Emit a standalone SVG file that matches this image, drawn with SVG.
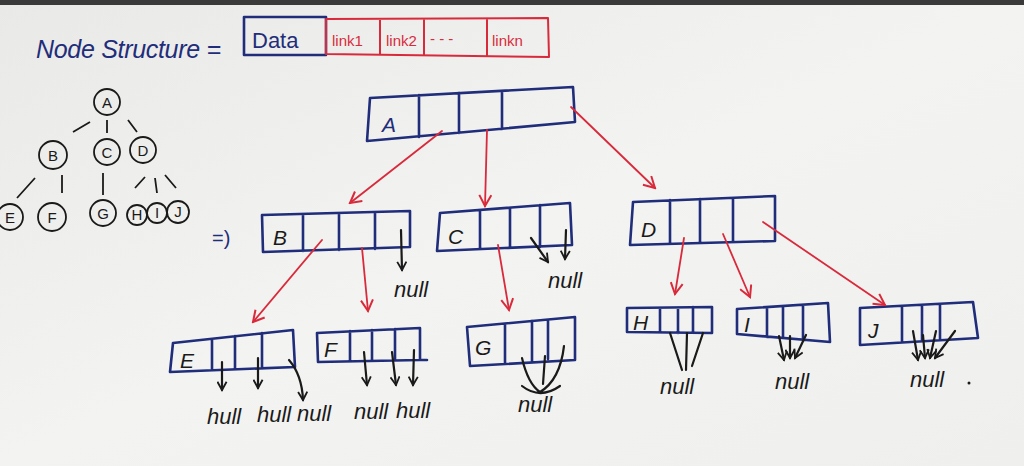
<svg xmlns="http://www.w3.org/2000/svg" width="1024" height="466" viewBox="0 0 1024 466">
<style>
.bx{fill:none;stroke:#1f2d7a;stroke-width:2.6;stroke-linejoin:round;stroke-linecap:round}
.rb{fill:none;stroke:#d92a3c;stroke-width:2;stroke-linejoin:round}
.red{fill:none;stroke:#d92a3c;stroke-width:1.8;stroke-linecap:round}
.blk{fill:none;stroke:#1a1a1a;stroke-width:2.2;stroke-linecap:round;stroke-linejoin:round}
.tc{fill:none;stroke:#1a1a1a;stroke-width:1.8}
.t{font-family:"Liberation Sans",Arial,sans-serif;fill:#1a1a1a}
.lbl{font-size:21px;font-style:italic}
.nul{font-size:22px;font-style:italic}
.tl{font-size:15px;text-anchor:middle}
</style>
<defs>
<linearGradient id="bg" x1="0" y1="0" x2="1" y2="1">
<stop offset="0" stop-color="#e9e9e7"/><stop offset="0.5" stop-color="#f3f3f1"/><stop offset="1" stop-color="#efefed"/>
</linearGradient>
<marker id="ar" viewBox="0 0 14 14" refX="12" refY="7" markerWidth="14" markerHeight="14" markerUnits="userSpaceOnUse" orient="auto"><path d="M1,1 L12,7 L1,13" fill="none" stroke="#d92a3c" stroke-width="2"/></marker>
<marker id="ab" viewBox="0 0 12 12" refX="10" refY="6" markerWidth="11" markerHeight="11" markerUnits="userSpaceOnUse" orient="auto"><path d="M1,1 L10,6 L1,11" fill="none" stroke="#1a1a1a" stroke-width="2"/></marker>
</defs>
<rect width="1024" height="466" fill="url(#bg)"/>
<rect width="1024" height="5" fill="#3a3a3a"/>

<g id="legend">
<text class="t" x="36" y="58" font-size="25" font-style="italic" fill="#1f2d7a" style="fill:#1f2d7a" textLength="185">Node Structure =</text>
<rect x="244" y="17" width="82" height="38" class="bx"/>
<text class="t" x="252" y="48" font-size="22" style="fill:#1f2d7a">Data</text>
<path d="M326,19 L548,18 L549,57 L326,54 Z M380,19 L380,55 M424,19 L424,55 M487,18 L487,56" class="rb"/>
<text class="t" x="332" y="46" font-size="15" style="fill:#d92a3c">link1</text>
<text class="t" x="386" y="46" font-size="15" style="fill:#d92a3c">link2</text>
<text class="t" x="430" y="44" font-size="15" style="fill:#d92a3c">- - -</text>
<text class="t" x="492" y="46" font-size="15" style="fill:#d92a3c">linkn</text>
</g>

<g id="tree">
<circle cx="107" cy="102" r="13" class="tc"/><text class="t tl" x="107" y="108">A</text>
<circle cx="53" cy="155" r="14" class="tc"/><text class="t tl" x="53" y="161">B</text>
<circle cx="107" cy="152" r="13" class="tc"/><text class="t tl" x="107" y="158">C</text>
<circle cx="143" cy="150" r="13" class="tc"/><text class="t tl" x="143" y="156">D</text>
<circle cx="10" cy="217" r="13" class="tc"/><text class="t tl" x="10" y="223">E</text>
<circle cx="52" cy="217" r="14" class="tc"/><text class="t tl" x="52" y="223">F</text>
<circle cx="103" cy="213" r="13" class="tc"/><text class="t tl" x="103" y="219">G</text>
<circle cx="137" cy="215" r="10" class="tc"/><text class="t tl" x="137" y="220" font-size="13">H</text>
<circle cx="157" cy="213" r="10" class="tc"/><text class="t tl" x="157" y="218" font-size="13">I</text>
<circle cx="178" cy="212" r="11" class="tc"/><text class="t tl" x="178" y="217" font-size="13">J</text>
<path d="M73,132 L90,122 M107,120 L107,133 M128,120 L137,132 M35,178 L17,198 M62,175 L62,193 M103,173 L103,195 M145,177 L135,188 M155,178 L157,193 M165,175 L176,188" class="tc"/>
</g>

<g id="implies">
<text class="t" x="212" y="245" font-size="20" style="fill:#1f2d7a">=)</text>
</g>

<g id="nodeA">
<path d="M370,98 L573,87 L575,122 L367,141 Z M419,95 L419,137 M459,93 L459,133 M502,91 L502,129" class="bx"/>
<text class="t lbl" x="382" y="132" style="fill:#1f2d7a">A</text>
</g>
<g id="nodeB">
<path d="M262,215 L410,211 L410,247 L263,252 Z M303,214 L303,251 M339,213 L339,250 M375,212 L375,249" class="bx"/>
<text class="t lbl" x="273" y="245">B</text>
</g>
<g id="nodeC">
<path d="M440,213 L570,203 L572,245 L437,251 Z M480,210 L480,249 M510,208 L510,248 M540,205 L540,247" class="bx"/>
<text class="t lbl" x="448" y="244">C</text>
</g>
<g id="nodeD">
<path d="M633,202 L775,196 L775,241 L630,245 Z M670,200 L670,244 M700,199 L700,243 M733,198 L733,242" class="bx"/>
<text class="t lbl" x="641" y="237">D</text>
</g>
<g id="nodeE">
<path d="M173,343 L293,330 L295,367 L170,372 Z M212,339 L212,370 M235,336 L235,369 M262,333 L262,368" class="bx"/>
<text class="t lbl" x="180" y="368">E</text>
</g>
<g id="nodeF">
<path d="M317,333 L420,328 L420,360 L318,362 Z M350,331 L350,361 M372,330 L372,361 M395,329 L395,360 M420,360 L427,360" class="bx"/>
<text class="t lbl" x="324" y="357">F</text>
</g>
<g id="nodeG">
<path d="M467,327 L575,317 L575,360 L470,366 Z M505,324 L505,363 M532,321 L532,361 M548,320 L548,359" class="bx"/>
<text class="t lbl" x="475" y="355">G</text>
</g>
<g id="nodeH">
<path d="M627,308 L712,307 L712,333 L627,332 Z M660,308 L660,332 M678,308 L678,333 M693,307 L693,333" class="bx"/>
<text class="t lbl" x="633" y="330" font-size="18">H</text>
</g>
<g id="nodeI">
<path d="M737,309 L828,303 L830,342 L737,334 Z M767,307 L767,337 M783,306 L783,338 M803,305 L803,340" class="bx"/>
<text class="t lbl" x="744" y="332" font-size="18">I</text>
</g>
<g id="nodeJ">
<path d="M860,308 L973,302 L978,338 L860,345 Z M902,306 L902,342 M922,305 L922,341 M940,304 L940,340" class="bx"/>
<text class="t lbl" x="868" y="338">J</text>
</g>

<g id="connectors">
<path d="M442,131 L350,203" class="red" marker-end="url(#ar)"/>
<path d="M487,130 L485,206" class="red" marker-end="url(#ar)"/>
<path d="M571,107 L655,188" class="red" marker-end="url(#ar)"/>
<path d="M322,240 L253,322" class="red" marker-end="url(#ar)"/>
<path d="M362,248 L368,311" class="red" marker-end="url(#ar)"/>
<path d="M498,245 L509,310" class="red" marker-end="url(#ar)"/>
<path d="M684,238 L675,294" class="red" marker-end="url(#ar)"/>
<path d="M723,234 L750,297" class="red" marker-end="url(#ar)"/>
<path d="M763,222 L885,305" class="red" marker-end="url(#ar)"/>

<path d="M401,230 L402,270" class="blk" marker-end="url(#ab)"/>
<path d="M531,238 L548,262" class="blk" marker-end="url(#ab)"/>
<path d="M566,230 L565,259" class="blk" marker-end="url(#ab)"/>
<path d="M222,362 L222,390" class="blk" marker-end="url(#ab)"/>
<path d="M258,358 L258,388" class="blk" marker-end="url(#ab)"/>
<path d="M289,360 Q302,375 303,400" class="blk" marker-end="url(#ab)"/>
<path d="M364,352 L367,385" class="blk" marker-end="url(#ab)"/>
<path d="M392,352 L396,385" class="blk" marker-end="url(#ab)"/>
<path d="M414,350 L413,385" class="blk" marker-end="url(#ab)"/>
<path d="M522,358 Q528,384 540,392 M545,356 L543,384 M564,346 Q560,380 540,392 M522,386 Q540,400 560,386" class="blk"/>
<path d="M670,333 L682,370 M687,333 L686,370 M703,333 L692,366" class="blk"/>
<path d="M779,336 L784,360" class="blk" marker-end="url(#ab)"/>
<path d="M790,336 L790,358" class="blk" marker-end="url(#ab)"/>
<path d="M806,335 L795,358" class="blk" marker-end="url(#ab)"/>
<path d="M913,331 L918,360" class="blk" marker-end="url(#ab)"/>
<path d="M923,335 L925,358" class="blk" marker-end="url(#ab)"/>
<path d="M936,331 L930,358" class="blk" marker-end="url(#ab)"/>
<path d="M955,331 L935,358" class="blk" marker-end="url(#ab)"/>
</g>

<g id="nulls">
<text class="t nul" x="394" y="297">null</text>
<text class="t nul" x="548" y="288">null</text>
<text class="t nul" x="207" y="424">hull</text>
<text class="t nul" x="257" y="422">hull</text>
<text class="t nul" x="297" y="421">null</text>
<text class="t nul" x="354" y="419">null</text>
<text class="t nul" x="396" y="418">hull</text>
<text class="t nul" x="518" y="412">null</text>
<text class="t nul" x="660" y="394">null</text>
<text class="t nul" x="775" y="389">null</text>
<text class="t nul" x="910" y="387">null</text>
<circle cx="969" cy="383" r="1.5" fill="#1a1a1a"/>
</g>
</svg>
